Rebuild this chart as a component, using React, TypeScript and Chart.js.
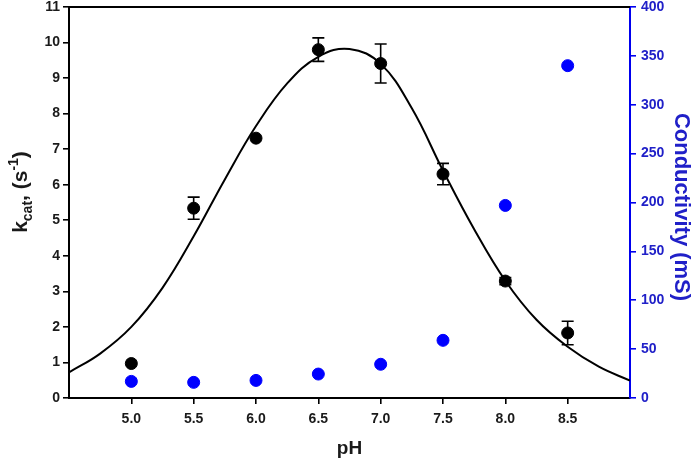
import React, { useEffect, useRef } from 'react';
import { Chart, registerables } from 'chart.js';

Chart.register(...registerables);

// measured data
const phValues = [5.0, 5.5, 6.0, 6.5, 7.0, 7.5, 8.0, 8.5];
const kcatValues = [0.97, 5.34, 7.31, 9.8, 9.41, 6.3, 3.29, 1.83];
const kcatErrors = [0, 0.31, 0, 0.33, 0.55, 0.3, 0.1, 0.33];
const conductivityValues = [17, 16, 18, 24.5, 34.5, 59, 197, 340];

// fitted curve
const fitPH = [4.5, 4.75, 5.0, 5.25, 5.5, 5.75, 6.0, 6.25, 6.5, 6.75, 7.0, 7.25, 7.5, 7.75, 8.0, 8.25, 8.5, 8.75, 9.0];
const fitKcat = [0.72, 1.25, 2.0, 3.1, 4.55, 6.15, 7.65, 8.85, 9.6, 9.82, 9.4, 8.15, 6.4, 4.75, 3.3, 2.2, 1.44, 0.88, 0.49];

const xTickValues = [5.0, 5.5, 6.0, 6.5, 7.0, 7.5, 8.0, 8.5];

const FONT = "'Liberation Sans', Arial, sans-serif";
const BLUE = '#0000ee';
const BLUE_TEXT = '#2020c8';
const DARK = '#1a1a1a';

const errorBarPlugin = {
  id: 'errorBars',
  afterDatasetsDraw(chart: any) {
    const { ctx } = chart;
    const xs = chart.scales.x;
    const ys = chart.scales.y;
    ctx.save();
    ctx.strokeStyle = '#000';
    ctx.lineWidth = 1.6;
    phValues.forEach((ph, i) => {
      const e = kcatErrors[i];
      if (!e) return;
      const px = xs.getPixelForValue(ph);
      const top = ys.getPixelForValue(kcatValues[i] + e);
      const bot = ys.getPixelForValue(kcatValues[i] - e);
      ctx.beginPath();
      ctx.moveTo(px, top);
      ctx.lineTo(px, bot);
      ctx.moveTo(px - 6, top);
      ctx.lineTo(px + 6, top);
      ctx.moveTo(px - 6, bot);
      ctx.lineTo(px + 6, bot);
      ctx.stroke();
    });
    ctx.restore();
  },
};

const framePlugin = {
  id: 'frameAndTitles',
  afterDraw(chart: any) {
    const { ctx, chartArea } = chart;
    ctx.save();
    // top frame line
    ctx.strokeStyle = '#000';
    ctx.lineWidth = 2;
    ctx.beginPath();
    ctx.moveTo(chartArea.left, chartArea.top);
    ctx.lineTo(chartArea.right, chartArea.top);
    ctx.stroke();

    // x title
    ctx.fillStyle = DARK;
    ctx.font = `bold 19px ${FONT}`;
    ctx.textAlign = 'center';
    ctx.textBaseline = 'alphabetic';
    ctx.fillText('pH', (chartArea.left + chartArea.right) / 2, 454);

    // left title with sub/superscript
    const parts = [
      { t: 'k', size: 21, dy: 0 },
      { t: 'cat', size: 14, dy: 5 },
      { t: ', (s', size: 21, dy: 0 },
      { t: '-1', size: 14, dy: -9 },
      { t: ')', size: 21, dy: 0 },
    ];
    let total = 0;
    parts.forEach((p) => {
      ctx.font = `bold ${p.size}px ${FONT}`;
      total += ctx.measureText(p.t).width;
    });
    ctx.save();
    ctx.translate(27, 192);
    ctx.rotate(-Math.PI / 2);
    ctx.textAlign = 'left';
    let cx = -total / 2;
    parts.forEach((p) => {
      ctx.font = `bold ${p.size}px ${FONT}`;
      ctx.fillText(p.t, cx, p.dy);
      cx += ctx.measureText(p.t).width;
    });
    ctx.restore();

    // right title
    ctx.save();
    ctx.translate(675, 207);
    ctx.rotate(Math.PI / 2);
    ctx.fillStyle = BLUE_TEXT;
    ctx.font = `bold 22px ${FONT}`;
    ctx.textAlign = 'center';
    ctx.fillText('Conductivity (mS)', 0, 0);
    ctx.restore();

    ctx.restore();
  },
};

export default function App() {
  const canvasRef = useRef<HTMLCanvasElement | null>(null);

  useEffect(() => {
    if (!canvasRef.current) return;
    const chart = new Chart(canvasRef.current, {
      type: 'scatter',
      data: {
        datasets: [
          {
            label: 'fit',
            data: fitPH.map((x, i) => ({ x, y: fitKcat[i] })),
            showLine: true,
            borderColor: '#000',
            borderWidth: 2,
            pointRadius: 0,
            tension: 0.4,
            yAxisID: 'y',
          },
          {
            label: 'kcat',
            data: phValues.map((x, i) => ({ x, y: kcatValues[i] })),
            backgroundColor: '#000',
            borderColor: '#000',
            pointRadius: 6,
            yAxisID: 'y',
          },
          {
            label: 'Conductivity',
            data: phValues.map((x, i) => ({ x, y: conductivityValues[i] })),
            backgroundColor: '#0000ff',
            borderColor: '#0000ff',
            pointRadius: 6,
            yAxisID: 'y2',
          },
        ],
      },
      options: {
        responsive: false,
        maintainAspectRatio: false,
        animation: false,
        layout: { padding: { top: 6, left: 0, right: 0, bottom: 0 } },
        plugins: { legend: { display: false }, tooltip: { enabled: false } },
        scales: {
          x: {
            type: 'linear',
            min: 4.5,
            max: 9.0,
            afterBuildTicks: (scale: any) => {
              scale.ticks = xTickValues.map((v) => ({ value: v }));
            },
            afterFit: (scale: any) => {
              scale.height = 62;
              scale.paddingLeft = 0;
              scale.paddingRight = 0;
            },
            ticks: {
              autoSkip: false,
              maxRotation: 0,
              padding: 7,
              color: DARK,
              font: { family: FONT, size: 14, weight: 'bold' },
              callback: (v: any) => Number(v).toFixed(1),
            },
            grid: { drawOnChartArea: false, drawTicks: true, tickLength: 6, color: '#000', lineWidth: 1.6 },
            border: { display: true, color: '#000', width: 2 },
          },
          y: {
            position: 'left',
            min: 0,
            max: 11,
            afterFit: (scale: any) => {
              scale.width = 69;
              scale.paddingTop = 0;
              scale.paddingBottom = 0;
            },
            ticks: {
              stepSize: 1,
              padding: 3,
              color: DARK,
              font: { family: FONT, size: 14, weight: 'bold' },
            },
            grid: { drawOnChartArea: false, drawTicks: true, tickLength: 6, color: '#000', lineWidth: 1.6 },
            border: { display: true, color: '#000', width: 2 },
          },
          y2: {
            position: 'right',
            min: 0,
            max: 400,
            afterFit: (scale: any) => {
              scale.width = 63;
              scale.paddingTop = 0;
              scale.paddingBottom = 0;
            },
            ticks: {
              stepSize: 50,
              padding: 5,
              color: BLUE_TEXT,
              font: { family: FONT, size: 14, weight: 'bold' },
            },
            grid: { drawOnChartArea: false, drawTicks: true, tickLength: 6, color: BLUE, lineWidth: 1.6 },
            border: { display: true, color: BLUE, width: 2 },
          },
        },
      },
      plugins: [errorBarPlugin, framePlugin],
    } as any);
    return () => chart.destroy();
  }, []);

  return (
    <div style={{ position: 'fixed', left: 0, top: 0, width: 693, height: 460, background: '#fff' }}>
      <canvas ref={canvasRef} width={693} height={460} style={{ display: 'block' }} />
    </div>
  );
}
